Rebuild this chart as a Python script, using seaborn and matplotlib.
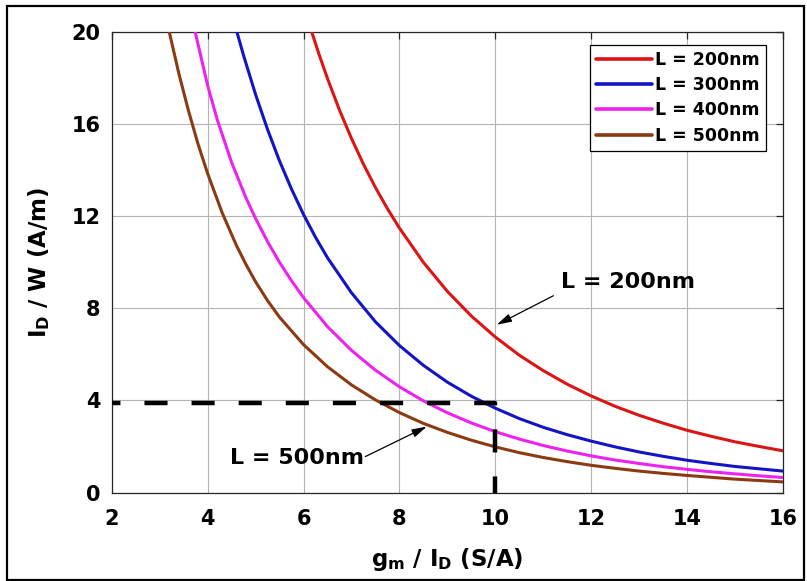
import matplotlib
matplotlib.use("Agg")
import matplotlib.pyplot as plt
import seaborn as sns
from matplotlib.patches import Rectangle

# Drain-current density I_D/W versus transconductance efficiency gm/I_D,
# one curve per channel length
gm_id_200 = [6.17, 6.33, 6.5, 6.75, 7.0, 7.25, 7.5, 7.75, 8.0, 8.5, 9.0, 9.5, 10.0,
             10.5, 11.0, 11.5, 12.0, 12.5, 13.0, 13.5, 14.0, 14.5, 15.0, 15.5, 16.0]
id_w_200 = [20.0, 18.98, 17.97, 16.60, 15.37, 14.25, 13.24, 12.32, 11.48, 9.99, 8.73,
            7.66, 6.75, 5.96, 5.29, 4.70, 4.19, 3.74, 3.35, 3.01, 2.70, 2.44, 2.20,
            2.00, 1.81]

gm_id_300 = [4.61, 4.75, 5.0, 5.25, 5.5, 5.75, 6.0, 6.25, 6.5, 7.0, 7.5, 8.0, 8.5,
             9.0, 9.5, 10.0, 10.5, 11.0, 11.5, 12.0, 12.5, 13.0, 13.5, 14.0, 14.5,
             15.0, 15.5, 16.0]
id_w_300 = [20.0, 18.97, 17.28, 15.76, 14.39, 13.17, 12.07, 11.08, 10.19, 8.67, 7.41,
            6.38, 5.52, 4.79, 4.18, 3.66, 3.21, 2.83, 2.51, 2.23, 1.98, 1.76, 1.57,
            1.40, 1.26, 1.13, 1.03, 0.93]

gm_id_400 = [3.74, 4.0, 4.2, 4.5, 4.8, 5.0, 5.25, 5.5, 5.75, 6.0, 6.5, 7.0, 7.5, 8.0,
             8.5, 9.0, 9.5, 10.0, 10.5, 11.0, 11.5, 12.0, 12.5, 13.0, 13.5, 14.0,
             14.5, 15.0, 15.5, 16.0]
id_w_400 = [20.0, 17.67, 16.19, 14.33, 12.79, 11.90, 10.89, 9.99, 9.19, 8.46, 7.20,
            6.17, 5.31, 4.59, 3.98, 3.46, 3.02, 2.64, 2.32, 2.04, 1.80, 1.59, 1.41,
            1.26, 1.12, 1.005, 0.90, 0.81, 0.725, 0.65]

gm_id_500 = [3.2, 3.4, 3.6, 3.8, 4.0, 4.3, 4.6, 4.8, 5.0, 5.25, 5.5, 6.0, 6.5, 7.0,
             7.5, 8.0, 8.5, 9.0, 9.5, 10.0, 10.5, 11.0, 11.5, 12.0, 12.5, 13.0, 13.5,
             14.0, 14.5, 15.0, 15.5, 16.0]
id_w_500 = [20.0, 18.19, 16.58, 15.13, 13.85, 12.16, 10.73, 9.90, 9.15, 8.33, 7.61,
            6.42, 5.46, 4.67, 4.02, 3.47, 3.00, 2.61, 2.27, 1.98, 1.73, 1.52, 1.34,
            1.18, 1.05, 0.93, 0.83, 0.74, 0.66, 0.58, 0.52, 0.46]

series_labels = ["L = 200nm", "L = 300nm", "L = 400nm", "L = 500nm"]
series_colors = ["#dd1414", "#1414c4", "#ee22ee", "#8b3a12"]

# design-point guide: about 4 A/m at gm/ID = 10 S/A
guide_x = [2, 10, 10]
guide_y = [3.88, 3.88, 0]

x_ticks = [2, 4, 6, 8, 10, 12, 14, 16]
y_ticks = [0, 4, 8, 12, 16, 20]

sns.set_style("white")
plt.rcParams["font.family"] = ["DejaVu Sans"]
plt.rcParams["font.weight"] = "bold"
plt.rcParams["mathtext.default"] = "bf"
plt.rcParams["text.color"] = "black"
plt.rcParams["axes.labelcolor"] = "black"
plt.rcParams["xtick.labelcolor"] = "black"
plt.rcParams["ytick.labelcolor"] = "black"

fig = plt.figure(figsize=(8.07, 5.81), dpi=100)
ax = fig.add_axes([0.1384, 0.1523, 0.9703 - 0.1384, 0.9454 - 0.1523])

curves = [(gm_id_200, id_w_200), (gm_id_300, id_w_300),
          (gm_id_400, id_w_400), (gm_id_500, id_w_500)]
for (xs, ys), lab, col in zip(curves, series_labels, series_colors):
    sns.lineplot(x=xs, y=ys, ax=ax, color=col, linewidth=2.2, label=lab,
                 estimator=None, sort=False, zorder=3)

ax.plot(guide_x, guide_y, color="black", linewidth=3.2,
        linestyle=(3.3, (5.2, 5.4)), dash_capstyle="butt",
        solid_joinstyle="miter", zorder=4)

ax.set_xlim(2, 16)
ax.set_ylim(0, 20)
ax.set_xticks(x_ticks)
ax.set_yticks(y_ticks)
ax.grid(True, color="#b4b4b4", linewidth=0.8)
ax.set_axisbelow(True)
for s in ax.spines.values():
    s.set_color("#262626")
    s.set_linewidth(0.9)
ax.tick_params(direction="in", length=5, width=0.9, color="#262626",
               top=True, right=True, labelsize=15)
ax.tick_params(axis="x", pad=12)
ax.tick_params(axis="y", pad=8)
for t in ax.get_xticklabels() + ax.get_yticklabels():
    t.set_fontweight("bold")

ax.set_xlabel(r"$g_m$ / $I_D$ (S/A)", fontsize=16.5, fontweight="bold", labelpad=12)
ax.set_ylabel(r"$I_D$ / W (A/m)", fontsize=16.5, fontweight="bold", labelpad=14)

leg = ax.legend(loc="upper right", bbox_to_anchor=(0.9747, 0.9718),
                borderaxespad=0, frameon=True, fancybox=False,
                edgecolor="black", framealpha=1, fontsize=12.5,
                handlelength=3.2, handletextpad=0.2, labelspacing=0.42,
                borderpad=0.35)
leg.get_frame().set_linewidth(0.9)
for h in leg.legend_handles:
    h.set_linewidth(2.6)
for t in leg.get_texts():
    t.set_fontweight("bold")

arrow = dict(arrowstyle="-|>,head_length=0.9,head_width=0.25",
             color="black", lw=0.9, shrinkA=0, shrinkB=0)
ax.annotate("", xy=(10.03, 7.28), xytext=(11.21, 8.54), arrowprops=arrow, zorder=5)
ax.text(12.77, 9.15, "L = 200nm", fontsize=16, fontweight="bold",
        ha="center", va="center", zorder=5)
ax.annotate("", xy=(8.57, 2.86), xytext=(7.29, 1.56), arrowprops=arrow, zorder=5)
ax.text(5.87, 1.48, "L = 500nm", fontsize=16, fontweight="bold",
        ha="center", va="center", zorder=5)

# outer frame around the whole figure
fig.patches.append(Rectangle((7 / 807, 1 - 580 / 581), 797 / 807, 574 / 581,
                             transform=fig.transFigure, fill=False,
                             edgecolor="black", linewidth=1.6))

fig.savefig("out.png", dpi=100)
